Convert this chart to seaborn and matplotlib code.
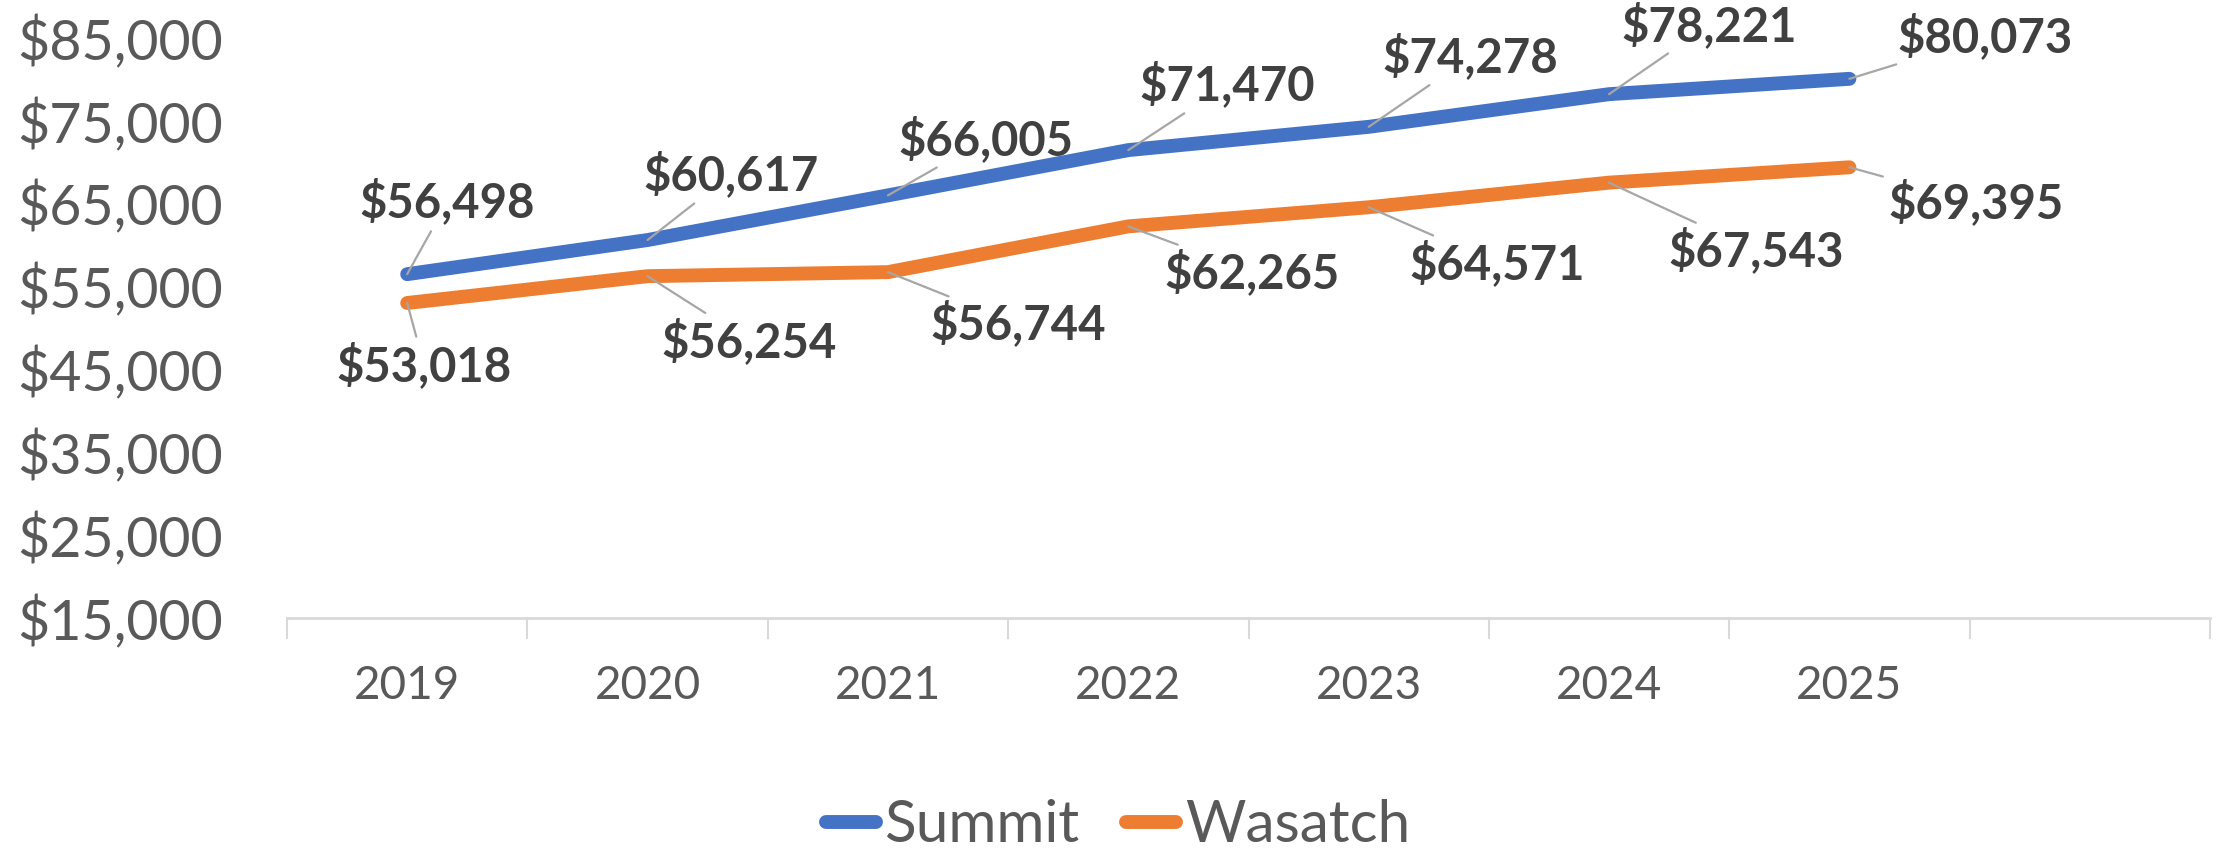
import matplotlib
matplotlib.use("Agg")
import matplotlib.pyplot as plt
import seaborn as sns
import pandas as pd
from matplotlib.lines import Line2D
from matplotlib.ticker import FuncFormatter, FixedLocator

# ---- data ----
years = ["2019", "2020", "2021", "2022", "2023", "2024", "2025"]
summit = [56498, 60617, 66005, 71470, 74278, 78221, 80073]
wasatch = [53018, 56254, 56744, 62265, 64571, 67543, 69395]
series_names = ["Summit", "Wasatch"]
y_ticks = [15000, 25000, 35000, 45000, 55000, 65000, 75000, 85000]

# ---- layout (label offsets in pixels, not data) ----
summit_offsets = [(40, 72), (83, 65), (98, 56), (99, 65), (102, 70), (100, 69), (136, 42)]
wasatch_offsets = [(17, -63), (102, -65), (130, -52), (124, -46), (128, -56), (147, -68), (127, -35)]
colors = {"Summit": "#4472C4", "Wasatch": "#ED7D31"}

sns.set_theme(style="white")
plt.rcParams["font.family"] = ["Lato", "DejaVu Sans"]

df = pd.DataFrame({
    "Year": years * 2,
    "Income": summit + wasatch,
    "County": ["Summit"] * len(years) + ["Wasatch"] * len(years),
})

fig = plt.figure(figsize=(22.18, 8.61), dpi=100)
ax = fig.add_axes([287 / 2218, 1 - 618 / 861, (2210 - 287) / 2218, (618 - 38) / 861])

sns.lineplot(data=df, x="Year", y="Income", hue="County", palette=colors,
             linewidth=10, sort=False, ax=ax, legend=False,
             solid_capstyle="round", solid_joinstyle="round")

ax.set_xlim(-0.5, 7.5)
ax.set_ylim(15000, 85000)
ax.set_xlabel("")
ax.set_ylabel("")

ax.xaxis.set_major_locator(FixedLocator(list(range(len(years)))))
ax.set_xticklabels(years)
ax.xaxis.set_minor_locator(FixedLocator([i - 0.5 for i in range(9)]))
ax.tick_params(axis="x", which="major", length=0, pad=34, labelsize=33, labelcolor="#595959")
ax.tick_params(axis="x", which="minor", length=15, width=1.5, color="#d9d9d9", bottom=True)

ax.set_yticks(y_ticks)
ax.yaxis.set_major_formatter(FuncFormatter(lambda v, p: f"${v:,.0f}"))
ax.tick_params(axis="y", length=0, labelsize=40, labelcolor="#595959")
for lab in ax.get_yticklabels():
    lab.set_horizontalalignment("left")
ax.yaxis.set_tick_params(pad=(287 - 17) * 72 / 100)

for s in ["top", "right", "left"]:
    ax.spines[s].set_visible(False)
ax.spines["bottom"].set_color("#d9d9d9")
ax.spines["bottom"].set_linewidth(2)

def label(vals, offs):
    for i, (v, (dx, dy)) in enumerate(zip(vals, offs)):
        ax.annotate(f"${v:,.0f}", xy=(i, v), xytext=(dx, dy), textcoords="offset pixels",
                    ha="center", va="center", fontsize=34, fontweight="bold", color="#404040",
                    annotation_clip=False,
                    arrowprops=dict(arrowstyle="-", color="#a6a6a6", lw=1.6,
                                    shrinkA=2, shrinkB=0))

label(summit, summit_offsets)
label(wasatch, wasatch_offsets)

handles = [Line2D([0], [0], color=colors[n], lw=10, solid_capstyle="round") for n in series_names]
leg = fig.legend(handles, series_names, loc="center", bbox_to_anchor=(1118 / 2218, 1 - 826 / 861),
                 ncol=2, frameon=False, fontsize=42, handlelength=0.85, handletextpad=0.15,
                 columnspacing=0.8, labelcolor="#595959", borderpad=0)

fig.savefig("out.png", dpi=100)
